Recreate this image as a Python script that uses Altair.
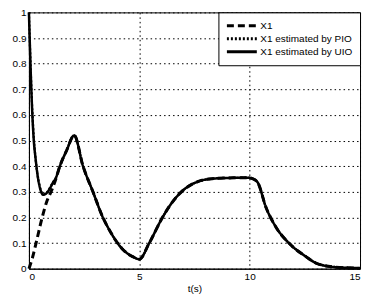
import altair as alt
import pandas as pd

series_names = ["X1", "X1 estimated by PIO", "X1 estimated by UIO"]

t_x1 = [0, 0.15, 0.35, 0.6, 0.8, 1.05, 1.2, 1.4, 1.7, 2.05,
        2.45, 2.9, 3.35, 3.65, 3.95, 4.2, 4.45, 4.7, 5.0,
        5.45, 6.05, 6.5, 7.0, 7.6, 8.3, 9.0, 9.95,
        10.1, 10.35, 10.75, 11.2, 11.8, 12.55, 13.0, 13.9, 15]
x1_true = [0, 0.04, 0.11, 0.2, 0.26, 0.31, 0.345, 0.40, 0.46, 0.52,
           0.40, 0.30, 0.20, 0.15, 0.108, 0.08, 0.06, 0.047, 0.037,
           0.10, 0.20, 0.26, 0.307, 0.338, 0.351, 0.354, 0.355,
           0.352, 0.338, 0.237, 0.161, 0.098, 0.047, 0.022, 0.006, 0.002]

t_est = [0, 0.05, 0.1, 0.15, 0.22, 0.3, 0.4, 0.5, 0.65, 0.8, 0.95, 1.1, 1.2,
         1.4, 1.7, 2.05,
         2.45, 2.9, 3.35, 3.65, 3.95, 4.2, 4.45, 4.7, 5.0,
         5.45, 6.05, 6.5, 7.0, 7.6, 8.3, 9.0, 9.95,
         10.1, 10.35, 10.75, 11.2, 11.8, 12.55, 13.0, 13.9, 15]
x1_pio = [1.0, 0.86, 0.73, 0.62, 0.51, 0.43, 0.36, 0.317, 0.29, 0.297, 0.315, 0.339, 0.35,
          0.40, 0.46, 0.52,
          0.40, 0.30, 0.20, 0.15, 0.108, 0.08, 0.06, 0.047, 0.037,
          0.10, 0.20, 0.26, 0.307, 0.338, 0.351, 0.354, 0.355,
          0.352, 0.338, 0.237, 0.161, 0.098, 0.047, 0.022, 0.006, 0.002]
x1_uio = [1.0, 0.85, 0.72, 0.61, 0.50, 0.43, 0.36, 0.315, 0.288, 0.295, 0.313, 0.338, 0.35,
          0.40, 0.46, 0.52,
          0.40, 0.30, 0.20, 0.15, 0.108, 0.08, 0.06, 0.047, 0.037,
          0.10, 0.20, 0.26, 0.307, 0.338, 0.351, 0.354, 0.355,
          0.352, 0.338, 0.237, 0.161, 0.098, 0.047, 0.022, 0.006, 0.002]

x_ticks = [0, 5, 10, 15]
y_ticks = [0, 0.1, 0.2, 0.3, 0.4, 0.5, 0.6, 0.7, 0.8, 0.9, 1]

rows = []
for t, v in zip(t_x1, x1_true):
    rows.append({"t": t, "v": v, "s": series_names[0]})
for t, v in zip(t_est, x1_pio):
    rows.append({"t": t, "v": v, "s": series_names[1]})
for t, v in zip(t_est, x1_uio):
    rows.append({"t": t, "v": v, "s": series_names[2]})
df = pd.DataFrame(rows)

FONT = "Liberation Sans"

dash_scale = alt.Scale(domain=series_names, range=[[7, 4], [2, 2], [1, 0]])

base = alt.Chart(df).encode(
    x=alt.X("t:Q", scale=alt.Scale(domain=[0, 15], nice=False),
            axis=alt.Axis(values=x_ticks, title="t(s)", format="~g",
                          labelPadding=3, titlePadding=2)),
    y=alt.Y("v:Q", scale=alt.Scale(domain=[0, 1], nice=False),
            axis=alt.Axis(values=y_ticks, title=None, format="~g",
                          labelPadding=3)),
    strokeDash=alt.StrokeDash("s:N", scale=dash_scale, title=None,
                              legend=alt.Legend(orient="top-right", offset=0)),
)

widths = [3, 2.2, 2.5]
layers = [
    base.transform_filter(alt.datum.s == name).mark_line(
        color="black", strokeWidth=w, interpolate="monotone")
    for name, w in zip(series_names, widths)
]

chart = alt.layer(*layers).properties(
    width=332, height=257,
    padding={"left": 21, "top": 4, "right": 10, "bottom": 30},
    autosize=alt.AutoSizeParams(type="none"),
).configure_view(
    stroke="black", strokeWidth=1
).configure_axis(
    grid=True, gridColor="black", gridDash=[1.5, 3], gridOpacity=1, gridWidth=1,
    domainColor="black", domainWidth=1, ticks=False,
    labelFont=FONT, labelFontSize=10, labelColor="black",
    titleFont=FONT, titleFontSize=10, titleColor="black", titleFontWeight="normal",
).configure_legend(
    fillColor="white", strokeColor="black", padding=7, cornerRadius=0,
    symbolType="stroke", symbolSize=900, symbolStrokeWidth=3,
    symbolStrokeColor="black", clipHeight=13, rowPadding=0,
    labelFont=FONT, labelFontSize=10, labelColor="black", labelOffset=2,
)

chart.save("out.html", embed_options={"renderer": "svg", "actions": False})
